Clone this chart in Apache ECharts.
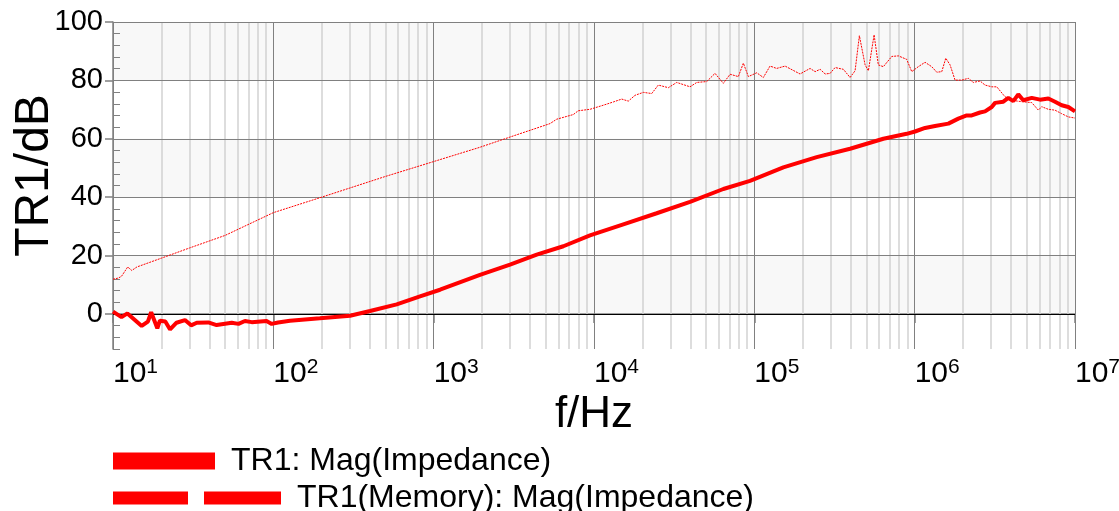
<!DOCTYPE html>
<html>
<head>
<meta charset="utf-8">
<script src="https://cdn.jsdelivr.net/npm/echarts@6/dist/echarts.min.js"></script>
<style>
html, body { margin: 0; padding: 0; background: #fff; }
#chart { width: 1119px; height: 511px; }
</style>
</head>
<body>
<div id="chart"></div>
<script>
// TR1 trace
var mainFreq = [10, 11.3, 12.3, 15.1, 16.5, 17.3, 18.9, 19.6, 21.2, 22.7, 24.9, 28.1, 30.7, 33.3, 39.3, 44.3,
    55, 60.6, 66.5, 73.3, 90.7, 97.7, 107, 127, 195, 301, 401, 588, 822, 1096, 1945, 2994, 4393, 6440,
    9440, 15240, 24600, 39720, 64080, 93970, 151700, 245000, 395600, 638000, 892000, 1005000, 1161000,
    1340000, 1622000, 1873000, 2112000, 2269000, 2556000, 2748000, 3025000, 3172000, 3573000, 3836000,
    4122000, 4428000, 4760000, 5372000, 6053000, 6818000, 7506000, 8258000, 9087000, 10000000];
var mainDb = [0.8, -1.1, 0.2, -4.1, -2.6, 0.6, -4.9, -2.3, -2.6, -5.3, -3.0, -2.1, -3.9, -3.0, -2.9, -3.8,
    -3.0, -3.4, -2.4, -2.8, -2.4, -3.4, -2.9, -2.3, -1.5, -0.6, 1.0, 3.3, 6.0, 8.3, 13.4, 16.9, 20.3, 23.2,
    26.9, 30.7, 34.5, 38.4, 42.8, 45.6, 50.2, 53.7, 56.6, 60.0, 61.7, 62.5, 63.7,
    64.4, 65.2, 66.9, 68.0, 68.0, 69.0, 69.4, 70.9, 72.3, 72.7, 74.0,
    72.9, 75.2, 73.2, 74.0, 73.4, 73.8, 72.7, 71.5, 70.9, 69.4];

// TR1(Memory) trace
var memFreq = [10, 10.8, 11.3, 12.35, 13.1, 14.1, 20, 30, 50, 100, 200, 500, 1000, 1945, 2994, 3990, 5318,
    5850, 7430, 7980, 9440, 11430, 13190, 14890, 16370, 18030, 20320, 22910, 25190, 29090, 32810, 39720,
    43740, 50470, 56850, 64080, 70600, 79500, 85400, 91800, 103500, 113800, 125300, 137900, 155500, 192800,
    222700, 239400, 257300, 276400, 296900, 318900, 359200, 395600, 425000, 452000, 490800, 514400, 558400,
    593400, 638000, 719600, 791000, 892000, 959000, 1054000, 1161000, 1277000, 1374000, 1476000, 1563000,
    1663000, 1786000, 1965000, 2162000, 2322000, 2556000, 2748000, 3025000, 3251000, 3658000, 4029000,
    4652000, 5372000, 5906000, 6198000, 6818000, 7506000, 8258000, 9087000, 10000000];
var memDb = [11.9, 12.3, 12.9, 16.1, 14.9, 16.1, 19.1, 22.6, 26.9, 34.7, 40.0, 47.1, 52.2, 57.1, 60.6, 62.9, 65.2,
    66.7, 68.3, 69.6, 70.1, 71.5, 72.6, 73.6, 72.9, 74.9, 75.9, 75.5, 78.4, 77.5, 79.3, 77.8,
    79.3, 79.6, 82.4, 79.0, 82.1, 81.3, 85.9, 81.3, 82.6, 81.0, 84.9, 84.1, 84.9, 82.2,
    84.1, 83.0, 83.8, 82.2, 82.4, 84.4, 83.8, 81.0, 83.3, 95.3, 85.3, 83.3, 95.6,
    85.3, 84.7, 88.2, 88.4, 87.2, 83.0, 84.7, 86.2, 84.7, 82.8, 83.0, 87.6,
    85.3, 80.1, 80.1, 80.7, 79.3, 79.8, 78.4, 77.8, 77.8, 74.4, 73.2,
    72.7, 72.4, 69.8, 71.0, 70.1, 69.8, 68.6, 67.5, 67.1];

var yTickLabels = [0, 20, 40, 60, 80, 100];
var shadedBands = [[0, 20], [40, 60], [80, 100]];
var decades = [10, 100, 1000, 10000, 100000, 1000000, 10000000];

var FONT = '"Liberation Sans", Arial, sans-serif';
var RED = '#ff0000';
var GRID_DARK = '#808080';

// vertical grid: light lines at 2..9 of every decade, dark at the decades
var vLines = [];
decades.forEach(function (d) {
    if (d < 10000000) {
        for (var m = 2; m <= 9; m++) vLines.push({ xAxis: d * m, lineStyle: { color: '#d2d2d2', width: 1.5, type: 'solid' } });
    }
});
decades.forEach(function (d) {
    vLines.push({ xAxis: d, lineStyle: { color: GRID_DARK, width: 1, type: 'solid' } });
});
var hLines = yTickLabels.map(function (v) {
    return { yAxis: v, lineStyle: { color: v === 0 ? '#000000' : GRID_DARK, width: 1, type: 'solid' } };
});

var chart = echarts.init(document.getElementById('chart'));
chart.setOption({
    animation: false,
    grid: { left: 113, right: 44, top: 22, bottom: 162, outerBoundsMode: 'none', containLabel: false },
    textStyle: { fontFamily: FONT },
    legend: [
        {
            left: 108, top: 440, orient: 'vertical',
            data: [{ name: 'TR1: Mag(Impedance)', icon: 'rect' }],
            itemWidth: 102, itemHeight: 17,
            itemStyle: { borderWidth: 0 },
            textStyle: { fontSize: 32, color: '#000', fontFamily: FONT, padding: [0, 0, 0, 11] }
        },
        {
            left: 108, top: 477, orient: 'vertical',
            data: [{ name: 'TR1(Memory): Mag(Impedance)', icon: 'path://M0,0H75V13H0Z M91,0H168V13H91Z' }],
            itemWidth: 168, itemHeight: 13,
            itemStyle: { borderWidth: 0 },
            textStyle: { fontSize: 32, color: '#000', fontFamily: FONT, padding: [0, 0, 0, 11] }
        }
    ],
    xAxis: {
        type: 'log', logBase: 10, min: 10, max: 10000000,
        name: 'f/Hz', nameLocation: 'middle', nameGap: 44, nameMoveOverlap: false,
        nameTextStyle: { fontSize: 44, color: '#000', fontFamily: FONT },
        axisLine: { lineStyle: { color: GRID_DARK, width: 1.5 } },
        axisTick: { show: true, length: 9, lineStyle: { color: GRID_DARK, width: 1.5 } },
        splitLine: { show: false },
        axisLabel: {
            align: 'left', margin: 8,
            formatter: function (v) {
                return '{b|10}{s|' + Math.round(Math.log10(v)) + '}';
            },
            rich: {
                b: { fontSize: 30, lineHeight: 34, color: '#000', fontFamily: FONT },
                s: { fontSize: 21, lineHeight: 21, verticalAlign: 'top', color: '#000', fontFamily: FONT }
            }
        }
    },
    yAxis: [
        {
            type: 'value', min: -12, max: 100, interval: 4,
            name: 'TR1/dB', nameLocation: 'middle', nameGap: 54, nameRotate: 90, nameMoveOverlap: false,
            nameTextStyle: { fontSize: 48, color: '#000', fontFamily: FONT, padding: [0, 0, 0, 20] },
            axisLine: { show: true, lineStyle: { color: GRID_DARK, width: 1.5 } },
            axisTick: { show: true, inside: true, length: 7, lineStyle: { color: GRID_DARK, width: 1 } },
            splitLine: { show: false },
            axisLabel: {
                margin: 10, fontSize: 29, color: '#000', fontFamily: FONT,
                formatter: function (v) { return v % 20 === 0 ? String(v) : ''; }
            }
        },
        {
            type: 'value', min: -12, max: 100, position: 'left',
            axisLine: { show: false },
            axisTick: { show: true, length: 8, customValues: yTickLabels, lineStyle: { color: GRID_DARK, width: 1.5 } },
            axisLabel: { show: false },
            splitLine: { show: false }
        }
    ],
    series: [
        {
            name: 'grid', type: 'line', data: [], z: 1, silent: true,
            markArea: {
                silent: true, z: 0,
                itemStyle: { color: '#f8f8f8' },
                data: shadedBands.map(function (b) { return [{ yAxis: b[0] }, { yAxis: b[1] }]; })
            },
            markLine: {
                silent: true, z: 1, symbol: 'none', label: { show: false },
                data: vLines.concat(hLines)
            }
        },
        {
            name: 'TR1(Memory): Mag(Impedance)', type: 'line', z: 3,
            data: memFreq.map(function (f, i) { return [f, memDb[i]]; }),
            showSymbol: false, color: RED,
            lineStyle: { color: RED, width: 1, type: [2, 1] }
        },
        {
            name: 'TR1: Mag(Impedance)', type: 'line', z: 4,
            data: mainFreq.map(function (f, i) { return [f, mainDb[i]]; }),
            showSymbol: false, color: RED,
            lineStyle: { color: RED, width: 4 }
        }
    ]
});
</script>
</body>
</html>
